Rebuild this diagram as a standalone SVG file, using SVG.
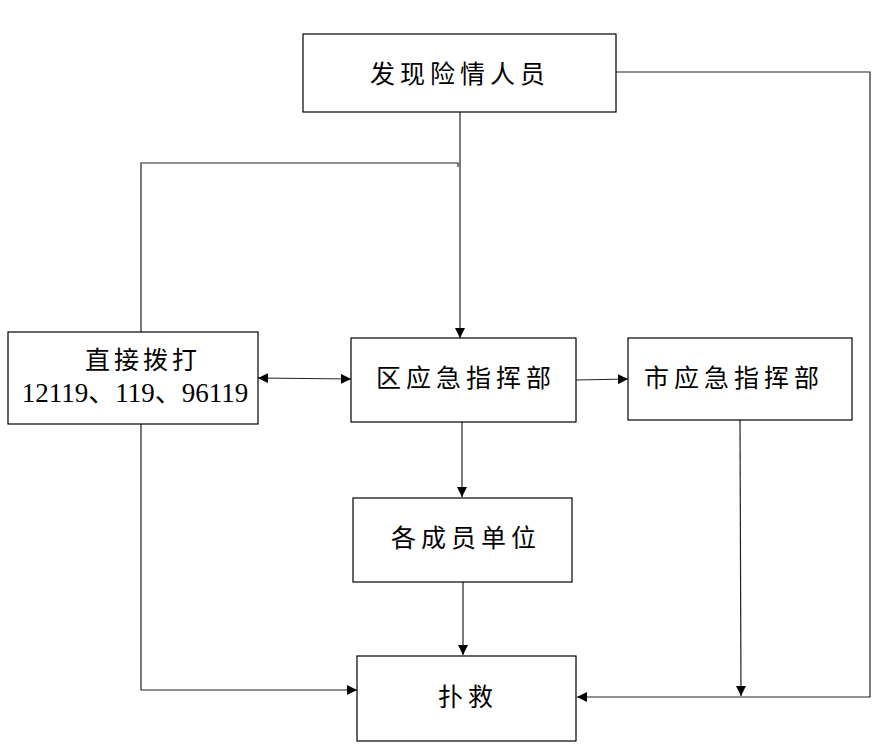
<svg xmlns="http://www.w3.org/2000/svg" width="885" height="751" viewBox="0 0 885 751">
<defs>
<marker id="ah" markerWidth="10" markerHeight="10" refX="10" refY="5" orient="auto" markerUnits="userSpaceOnUse">
<path d="M0,0 L10,5 L0,10 Z" fill="#000"/>
</marker>
<marker id="ahs" markerWidth="10" markerHeight="10" refX="0" refY="5" orient="auto" markerUnits="userSpaceOnUse">
<path d="M10,0 L0,5 L10,10 Z" fill="#000"/>
</marker>
</defs>
<style>
.box{fill:#fff;stroke:#000;stroke-width:1.2}
.t{font-family:"Liberation Serif","Noto Sans CJK SC",serif;font-size:25px;fill:#000;text-anchor:middle;dominant-baseline:central;letter-spacing:5px}
.c{fill:none;stroke:#222;stroke-width:1.2}
</style>
<rect width="885" height="751" fill="#fff"/>
<g id="connectors">
<polyline class="c" points="616,72 870,72 870,697 577,697" marker-end="url(#ah)"/>
<polyline class="c" points="141,332 141,163 458,163 458,167"/>
<line class="c" x1="460" y1="112" x2="460" y2="338" marker-end="url(#ah)"/>
<line class="c" x1="258" y1="378" x2="351" y2="379" marker-start="url(#ahs)" marker-end="url(#ah)"/>
<line class="c" x1="576" y1="380" x2="628" y2="379" marker-end="url(#ah)"/>
<line class="c" x1="462" y1="422" x2="462" y2="497" marker-end="url(#ah)"/>
<line class="c" x1="463" y1="582" x2="463" y2="655" marker-end="url(#ah)"/>
<polyline class="c" points="141,424 141,690 357,690" marker-end="url(#ah)"/>
<line class="c" x1="740" y1="420" x2="741" y2="696" marker-end="url(#ah)"/>
</g>
<g id="n1"><rect class="box" x="303" y="34" width="313" height="78"/><text class="t" x="460" y="74">发现险情人员</text></g>
<g id="n2"><rect class="box" x="8" y="332" width="250" height="92"/>
<text class="t" x="143" y="360" style="letter-spacing:4px">直接拨打</text>
<text class="t" x="135" y="393" style="font-size:27px;letter-spacing:0px">12119、119、96119</text></g>
<g id="n3"><rect class="box" x="351" y="338" width="225" height="84"/><text class="t" x="466" y="378">区应急指挥部</text></g>
<g id="n4"><rect class="box" x="628" y="338" width="224" height="82"/><text class="t" x="734" y="378">市应急指挥部</text></g>
<g id="n5"><rect class="box" x="353" y="498" width="219" height="84"/><text class="t" x="466" y="538">各成员单位</text></g>
<g id="n6"><rect class="box" x="357" y="656" width="219" height="85"/><text class="t" x="468" y="697">扑救</text></g>
</svg>
